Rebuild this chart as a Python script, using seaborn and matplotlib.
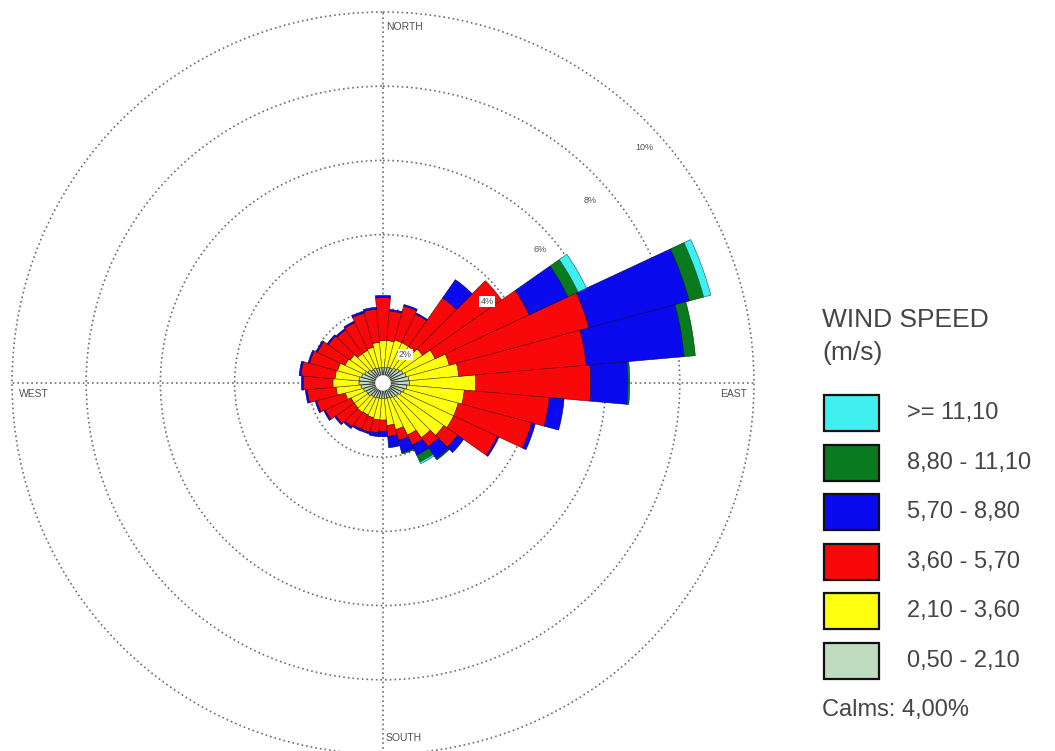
import numpy as np
import pandas as pd
import matplotlib
matplotlib.use("Agg")
import matplotlib.pyplot as plt
from matplotlib.patches import Rectangle
import seaborn as sns

# Wind directions (degrees, clockwise from north), 10 degree sectors
directions = list(range(0, 360, 10))

# Frequency (%) per speed class, one value per direction
freq_050_210 = [0.42, 0.42, 0.45, 0.45, 0.50, 0.55, 0.60, 0.65, 0.70, 0.72, 0.65, 0.60,
                0.55, 0.50, 0.48, 0.45, 0.42, 0.42, 0.42, 0.42, 0.42, 0.45, 0.45, 0.50,
                0.50, 0.55, 0.60, 0.65, 0.65, 0.60, 0.55, 0.50, 0.45, 0.45, 0.42, 0.42]
freq_210_360 = [0.73, 0.73, 0.75, 0.75, 0.70, 0.75, 0.95, 1.20, 1.35, 1.78, 1.55, 1.50,
                1.55, 1.50, 1.32, 1.10, 0.88, 0.73, 0.58, 0.58, 0.55, 0.50, 0.52, 0.45,
                0.45, 0.50, 0.67, 0.70, 0.65, 0.67, 0.58, 0.58, 0.52, 0.52, 0.58, 0.68]
freq_360_570 = [1.15, 0.80, 0.95, 0.85, 1.60, 2.60, 2.80, 3.90, 3.45, 3.10, 2.30, 2.05,
                1.30, 0.45, 0.30, 0.30, 0.30, 0.30, 0.30, 0.35, 0.40, 0.43, 0.48, 0.60,
                0.77, 0.80, 0.78, 0.80, 0.92, 0.78, 0.82, 0.72, 0.78, 0.83, 0.95, 0.90]
freq_570_880 = [0.06, 0.04, 0.04, 0.04, 0.60, 0.00, 1.15, 2.80, 2.65, 1.00, 0.40, 0.10,
                0.05, 0.20, 0.40, 0.30, 0.35, 0.30, 0.15, 0.10, 0.05, 0.05, 0.05, 0.04,
                0.04, 0.04, 0.05, 0.05, 0.05, 0.04, 0.04, 0.04, 0.04, 0.04, 0.05, 0.05]
freq_880_1110 = [0.0, 0.0, 0.0, 0.0, 0.0, 0.0, 0.30, 0.40, 0.30, 0.05, 0.0, 0.0,
                 0.0, 0.0, 0.03, 0.20, 0.03, 0.0, 0.0, 0.0, 0.0, 0.0, 0.0, 0.0,
                 0.0, 0.0, 0.0, 0.0, 0.0, 0.0, 0.0, 0.0, 0.0, 0.0, 0.0, 0.0]
freq_1110 = [0.0, 0.0, 0.0, 0.0, 0.0, 0.0, 0.25, 0.20, 0.0, 0.0, 0.0, 0.0,
             0.0, 0.0, 0.0, 0.05, 0.0, 0.0, 0.0, 0.0, 0.0, 0.0, 0.0, 0.0,
             0.0, 0.0, 0.0, 0.0, 0.0, 0.0, 0.0, 0.0, 0.0, 0.0, 0.0, 0.0]

speed_labels = ["0,50 - 2,10", "2,10 - 3,60", "3,60 - 5,70",
                "5,70 - 8,80", "8,80 - 11,10", ">= 11,10"]
speed_colors = ["#c0dcc0", "#ffff10", "#f80808", "#0a0aee", "#0a7a1e", "#40f0f0"]
edge_colors = ["#2a2a2a", "#55500a", "#6a0000", "#000060", "#003000", "#006060"]

ring_values = [2, 4, 6, 8, 10]
ring_labels = ["2%", "4%", "6%", "8%", "10%"]
calms_text = "Calms: 4,00%"

sns.set_theme(style="white")
plt.rcParams["font.family"] = ["Liberation Sans", "DejaVu Sans"]

df = pd.DataFrame({
    "direction": directions,
    speed_labels[0]: freq_050_210,
    speed_labels[1]: freq_210_360,
    speed_labels[2]: freq_360_570,
    speed_labels[3]: freq_570_880,
    speed_labels[4]: freq_880_1110,
    speed_labels[5]: freq_1110,
})

W, H = 1055, 751
fig = plt.figure(figsize=(W / 100, H / 100), dpi=100)

# polar axes centred on (383, 383) px, 10% ring at ~371 px
rmax = 10.05
rad_px = 371 * rmax / 10
cx, cy = 383, 383
ax = fig.add_axes([(cx - rad_px) / W, (H - cy - rad_px) / H, 2 * rad_px / W, 2 * rad_px / H],
                  projection="polar")
ax.set_theta_zero_location("N")
ax.set_theta_direction(-1)

theta = np.deg2rad(df["direction"].values)
width = np.deg2rad(10)
bottom = np.zeros(len(df))
for lab, col, ec in zip(speed_labels, speed_colors, edge_colors):
    vals = df[lab].values
    m = vals > 0
    lw = 0.6 if lab == speed_labels[0] else 0.4
    ax.bar(theta[m], vals[m], width=width, bottom=bottom[m], color=col,
           edgecolor=ec, linewidth=lw, zorder=2)
    bottom = bottom + vals

# white hole in the middle
ax.bar(0, 0.21, width=2 * np.pi, bottom=0, color="white", edgecolor="none", zorder=4)

ax.set_ylim(0, rmax)
ax.set_yticks(ring_values)
ax.set_yticklabels([])
ax.set_xticks(np.deg2rad([0, 90, 180, 270]))
ax.set_xticklabels([])
ax.grid(True, color="#6e6e6e", linestyle=(0, (1, 1.8)), linewidth=1.2)
ax.set_axisbelow(True)
ax.spines["polar"].set_visible(False)
ax.set_facecolor("white")

# ring labels
label_pos = [(38, 0.97), (52, 3.56), (49.7, 5.55), (48.5, 7.44), (48, 9.49)]
for (ang, r), txt in zip(label_pos, ring_labels):
    ax.text(np.deg2rad(ang), r, txt, fontsize=6.5, color="#505050", ha="center", va="center",
            zorder=6, bbox=dict(facecolor="white", edgecolor="none", pad=0.8))

# compass labels
small = dict(fontsize=7.5, color="#505050", zorder=6)
ax.annotate("NORTH", (0, 10), xytext=(2, -7), textcoords="offset points", ha="left", va="top", **small)
ax.annotate("WEST", (np.deg2rad(270), 10), xytext=(5, -4), textcoords="offset points", ha="left", va="top", **small)
ax.annotate("EAST", (np.deg2rad(90), 10), xytext=(-5, -4), textcoords="offset points", ha="right", va="top", **small)
ax.annotate("SOUTH", (np.pi, 10), xytext=(2, 8), textcoords="offset points", ha="left", va="bottom", **small)

# legend drawn in figure pixels
def fx(x):
    return x / W

def fy(y):
    return 1 - y / H

txt_col = "#454545"
fig.text(fx(822), fy(320), "WIND SPEED", fontsize=19, color=txt_col, ha="left", va="center")
fig.text(fx(822), fy(353), "(m/s)", fontsize=19, color=txt_col, ha="left", va="center")

box_top, step, box_h = 395, 49.6, 36
for i, (lab, col) in enumerate(zip(speed_labels[::-1], speed_colors[::-1])):
    top = box_top + i * step
    fig.patches.append(Rectangle((fx(824), fy(top + box_h)), 55 / W, box_h / H,
                                 transform=fig.transFigure, facecolor=col,
                                 edgecolor="#111111", linewidth=1.6))
    fig.text(fx(907), fy(top + box_h / 2), lab, fontsize=17, color=txt_col, ha="left", va="center")

fig.text(fx(822), fy(710), calms_text, fontsize=17, color=txt_col, ha="left", va="center")

fig.savefig("out.png", dpi=100, facecolor="white")
